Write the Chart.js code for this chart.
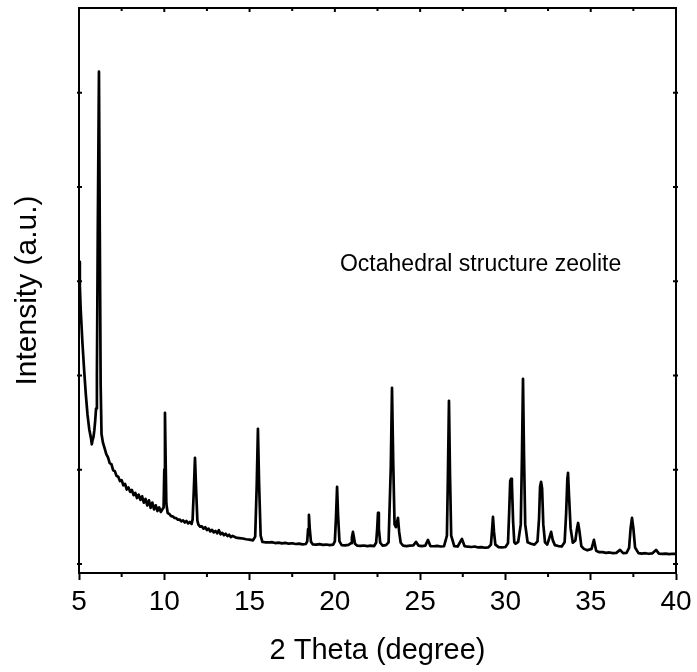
<!DOCTYPE html>
<html lang="en">
<head>
  <meta charset="UTF-8">
  <title>XRD pattern</title>
  <script src="https://cdn.jsdelivr.net/npm/chart.js"></script>
  <style>
    body {
      margin: 0;
      padding: 0;
      background: #fff;
    }
    #wrap {
      width: 697px;
      height: 672px;
    }
  </style>
</head>
<body>
  <div id="wrap"><canvas id="xrd"></canvas></div>
  <script>
    // 2 theta (degree)
    const twoTheta = [
      5.00, 5.05, 5.10, 5.20, 5.30, 5.40, 5.50, 5.60, 5.70, 5.75,
      5.80, 5.85, 5.90, 5.95, 6.00, 6.05, 6.10, 6.17, 6.22, 6.27,
      6.32, 6.40, 6.5, 6.6, 6.7, 6.8, 6.9, 7.0, 7.1, 7.2,
      7.3, 7.4, 7.5, 7.6, 7.7, 7.8, 7.9, 8.0, 8.1, 8.2,
      8.3, 8.4, 8.5, 8.6, 8.7, 8.8, 8.9, 9.0, 9.1, 9.2,
      9.3, 9.4, 9.5, 9.6, 9.7, 9.8, 9.88, 9.96, 10.00, 10.04,
      10.08, 10.12, 10.2, 10.3, 10.4, 10.5, 10.6, 10.7, 10.8, 10.9,
      11.0, 11.1, 11.2, 11.3, 11.4, 11.5, 11.6, 11.66, 11.73, 11.80,
      11.87, 11.94, 12.0, 12.1, 12.2, 12.3, 12.4, 12.5, 12.6, 12.7,
      12.8, 12.9, 13.0, 13.1, 13.2, 13.3, 13.4, 13.5, 13.6, 13.7,
      13.8, 13.9, 14.0, 14.2, 14.4, 14.6, 14.8, 15.0, 15.2, 15.33,
      15.42, 15.49, 15.56, 15.65, 15.75, 15.9, 16.1, 16.3, 16.5, 16.7,
      16.9, 17.1, 17.3, 17.5, 17.7, 17.9, 18.1, 18.3, 18.38, 18.43,
      18.48, 18.53, 18.60, 18.7, 18.9, 19.1, 19.3, 19.5, 19.7, 19.9,
      20.00, 20.07, 20.13, 20.19, 20.27, 20.4, 20.6, 20.8, 20.95, 21.00,
      21.06, 21.12, 21.18, 21.3, 21.5, 21.7, 21.9, 22.1, 22.3, 22.42,
      22.48, 22.53, 22.58, 22.66, 22.8, 23.0, 23.15, 23.28, 23.35, 23.42,
      23.50, 23.58, 23.64, 23.70, 23.77, 23.86, 24.0, 24.2, 24.4, 24.6,
      24.76, 24.9, 25.1, 25.3, 25.46, 25.6, 25.8, 26.0, 26.2, 26.4,
      26.57, 26.63, 26.69, 26.75, 26.82, 27.0, 27.2, 27.45, 27.6, 27.8,
      28.0, 28.2, 28.4, 28.6, 28.8, 29.0, 29.15, 29.21, 29.27, 29.33,
      29.41, 29.6, 29.8, 30.0, 30.15, 30.22, 30.28, 30.33, 30.38, 30.45,
      30.52, 30.6, 30.75, 30.90, 30.97, 31.03, 31.09, 31.16, 31.3, 31.5,
      31.7, 31.88, 31.97, 32.03, 32.09, 32.15, 32.22, 32.32, 32.45, 32.58,
      32.68, 32.78, 32.9, 33.1, 33.3, 33.47, 33.56, 33.63, 33.67, 33.73,
      33.82, 33.95, 34.1, 34.2, 34.26, 34.33, 34.45, 34.6, 34.8, 35.05,
      35.19, 35.32, 35.5, 35.7, 35.9, 36.1, 36.3, 36.5, 36.72, 36.9,
      37.1, 37.25, 37.34, 37.42, 37.50, 37.6, 37.8, 38.0, 38.2, 38.4,
      38.6, 38.83, 39.0, 39.2, 39.4, 39.6, 39.8, 40.0
    ];

    // intensity (counts), same order as twoTheta
    const intensity = [
      3207, 2950, 2697, 2350, 2060, 1800, 1582, 1430, 1338, 1270,
      1317, 1349, 1420, 1520, 1650, 2000, 3500, 5225, 3500, 1900,
      1380, 1290, 1230, 1165, 1130, 1070, 1060, 995, 985, 935,
      925, 880, 890, 835, 850, 790, 812, 765, 785, 730,
      755, 700, 735, 680, 718, 650, 690, 620, 675, 595,
      652, 578, 622, 562, 600, 552, 578, 600, 1000, 1604,
      1100, 640, 540, 530, 508, 505, 488, 486, 470, 472,
      452, 462, 440, 456, 430, 446, 425, 470, 775, 1126,
      775, 460, 418, 396, 400, 375, 390, 360, 375, 345,
      362, 335, 350, 325, 358, 315, 330, 305, 320, 296,
      310, 286, 298, 280, 275, 270, 262, 258, 250, 290,
      840, 1434, 840, 300, 235, 230, 228, 232, 222, 226,
      218, 224, 215, 220, 212, 216, 208, 212, 240, 370,
      520, 370, 235, 208, 205, 210, 202, 206, 200, 205,
      240, 510, 818, 510, 240, 200, 198, 202, 220, 280,
      340, 280, 215, 195, 192, 196, 190, 194, 190, 225,
      370, 542, 370, 225, 195, 200, 230, 1030, 1869, 1100,
      420, 390, 440, 489, 340, 225, 195, 190, 195, 198,
      234, 195, 190, 195, 255, 190, 188, 192, 185, 188,
      300, 960, 1731, 960, 300, 190, 185, 266, 190, 183,
      180, 185, 175, 178, 172, 176, 205, 340, 499, 340,
      205, 178, 175, 180, 220, 550, 880, 903, 850, 450,
      230, 215, 235, 420, 1150, 1965, 1150, 420, 230, 215,
      205, 240, 480, 820, 871, 800, 420, 230, 205, 280,
      340, 250, 200, 190, 185, 230, 540, 900, 966, 720,
      380, 225, 250, 380, 435, 360, 190, 160, 145, 160,
      255, 140, 125, 125, 118, 122, 115, 118, 149, 115,
      118, 170, 380, 489, 380, 175, 115, 110, 114, 108,
      112, 149, 110, 106, 110, 104, 108, 106
    ];

    const xMajorTicks = [5, 10, 15, 20, 25, 30, 35, 40];
    const xMinorTicks = [7.5, 12.5, 17.5, 22.5, 27.5, 32.5, 37.5];
    const yTicks = [0, 1000, 2000, 3000, 4000, 5000];
    const sampleLabel = 'Octahedral structure zeolite';

    const FONT = 'Liberation Sans, Arial, sans-serif';

    // frame, minor ticks, y ticks and the label in the plot
    const framePlugin = {
      id: 'frame',
      afterDraw(chart) {
        const ctx = chart.ctx;
        const a = chart.chartArea;
        const xs = chart.scales.x;
        const ys = chart.scales.y;
        ctx.save();
        ctx.strokeStyle = '#000';
        ctx.lineWidth = 2;
        ctx.beginPath();
        ctx.rect(a.left, a.top, a.right - a.left, a.bottom - a.top);
        ctx.stroke();

        ctx.beginPath();
        xMinorTicks.forEach(v => {
          const px = xs.getPixelForValue(v);
          ctx.moveTo(px, a.bottom);
          ctx.lineTo(px, a.bottom + 4);
          ctx.moveTo(px, a.top);
          ctx.lineTo(px, a.top + 3);
        });
        xMajorTicks.forEach(v => {
          const px = xs.getPixelForValue(v);
          ctx.moveTo(px, a.top);
          ctx.lineTo(px, a.top + 4);
        });
        yTicks.forEach(v => {
          const py = ys.getPixelForValue(v);
          ctx.moveTo(a.left - 2, py);
          ctx.lineTo(a.left + 3, py);
          ctx.moveTo(a.right + 2, py);
          ctx.lineTo(a.right - 3, py);
        });
        ctx.stroke();

        ctx.fillStyle = '#000';
        ctx.font = '23px ' + FONT;
        ctx.textAlign = 'left';
        ctx.textBaseline = 'middle';
        ctx.fillText(sampleLabel, xs.getPixelForValue(20.3), ys.getPixelForValue(3175));
        ctx.restore();
      }
    };

    new Chart(document.getElementById('xrd'), {
      type: 'line',
      data: {
        datasets: [{
          data: twoTheta.map((t, i) => ({ x: t, y: intensity[i] })),
          borderColor: '#000',
          borderWidth: 2.7,
          borderJoinStyle: 'round',
          pointRadius: 0,
          tension: 0,
          fill: false
        }]
      },
      options: {
        responsive: true,
        maintainAspectRatio: false,
        animation: false,
        layout: { padding: { top: 8, right: 21, left: 0, bottom: 0 } },
        plugins: {
          legend: { display: false },
          tooltip: { enabled: false }
        },
        scales: {
          x: {
            type: 'linear',
            min: 5,
            max: 40,
            afterFit: s => { s.height = 99; },
            ticks: {
              stepSize: 5,
              color: '#000',
              padding: 5,
              font: { family: FONT, size: 28 }
            },
            grid: {
              drawOnChartArea: false,
              tickLength: 7,
              tickWidth: 2,
              tickColor: '#000'
            },
            border: { display: true, color: '#000', width: 2 },
            title: {
              display: true,
              text: '2 Theta (degree)',
              color: '#000',
              font: { family: FONT, size: 29 },
              padding: { top: 0, bottom: 4 }
            }
          },
          y: {
            min: -96,
            max: 5900,
            afterFit: s => { s.width = 79; },
            ticks: { display: false, stepSize: 1000 },
            grid: { display: false },
            border: { display: true, color: '#000', width: 2 },
            title: {
              display: true,
              text: 'Intensity (a.u.)',
              color: '#000',
              font: { family: FONT, size: 30 },
              padding: { top: 10, bottom: 0 }
            }
          }
        }
      },
      plugins: [framePlugin]
    });
  </script>
</body>
</html>
